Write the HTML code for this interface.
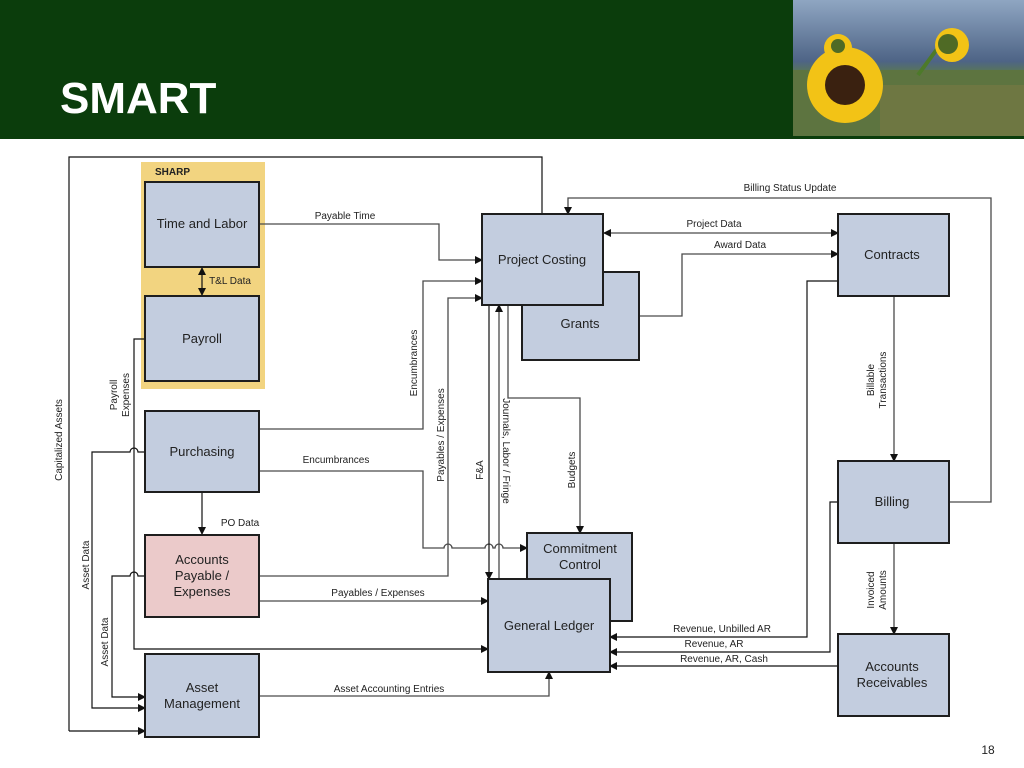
<!DOCTYPE html>
<html><head><meta charset="utf-8"><style>
html,body{margin:0;padding:0;background:#fff;}
svg{display:block;font-family:"Liberation Sans",Arial,sans-serif;}
.b{fill:#c3cddf;stroke:#1e1e1e;stroke-width:2;}
.l{fill:none;stroke:#4a4a4a;stroke-width:1.3;}
.k{fill:none;stroke:#111;stroke-width:1.2;}
.t{font-size:13px;fill:#222;text-anchor:middle;}
.c{font-size:10px;fill:#222;text-anchor:middle;}
</style></head><body>
<svg width="1024" height="768" viewBox="0 0 1024 768" xmlns="http://www.w3.org/2000/svg">
<defs>
<marker id="a" markerWidth="8" markerHeight="8" refX="7" refY="4" orient="auto" markerUnits="userSpaceOnUse"><path d="M0,0 L8,4 L0,8 z" fill="#111"/></marker>
<marker id="s" markerWidth="8" markerHeight="8" refX="1" refY="4" orient="auto" markerUnits="userSpaceOnUse"><path d="M8,0 L0,4 L8,8 z" fill="#111"/></marker>
<linearGradient id="sky" x1="0" y1="0" x2="0" y2="1"><stop offset="0" stop-color="#8fa6c2"/><stop offset="0.45" stop-color="#4e6486"/><stop offset="0.55" stop-color="#5b7a4c"/><stop offset="1" stop-color="#556b37"/></linearGradient>
</defs>
<!-- header -->
<rect x="0" y="0" width="1024" height="139" fill="#0b3d0c"/>
<text x="60" y="113" font-size="44" font-weight="bold" fill="#fff">SMART</text>
<rect x="793" y="0" width="231" height="136" fill="url(#sky)"/>
<rect x="793" y="70" width="231" height="66" fill="#5d7440"/>
<rect x="880" y="85" width="144" height="51" fill="#7a7a45" opacity="0.6"/>
<path d="M918,75 L940,45" stroke="#4d7a2a" stroke-width="4"/>
<g fill="#f2c316"><circle cx="838" cy="48" r="14"/><circle cx="952" cy="45" r="17"/><circle cx="845" cy="85" r="38"/></g>
<circle cx="845" cy="85" r="20" fill="#3a2110"/>
<circle cx="948" cy="44" r="10" fill="#4f6a25"/>
<circle cx="838" cy="46" r="7" fill="#4f6a25"/>
<!-- SHARP -->
<rect x="141" y="162" width="124" height="227" fill="#f2d480"/>
<text x="155" y="175" font-size="10" font-weight="bold" fill="#222">SHARP</text>
<!-- connectors -->
<polyline class="k" points="69,731 69,157 542,157 542,214"/>
<line class="k" x1="69" y1="731" x2="145" y2="731" marker-end="url(#a)"/>
<polyline class="l" points="259,224 439,224 439,260 482,260" marker-end="url(#a)"/>
<line class="k" x1="202" y1="268" x2="202" y2="295" marker-start="url(#s)" marker-end="url(#a)"/>
<polyline class="l" points="259,429 423,429 423,281 482,281" marker-end="url(#a)"/>
<polyline class="l" points="259,576 448,576 448,298 482,298" marker-end="url(#a)"/>
<path class="l" d="M259,471 L423,471 L423,548 L444,548 A4,4 0 0 1 452,548 L485,548 A4,4 0 0 1 493,548 L495,548 A4,4 0 0 1 503,548 L527,548" marker-end="url(#a)"/>
<line class="k" x1="489" y1="305" x2="489" y2="579" marker-end="url(#a)"/>
<line class="l" x1="499" y1="579" x2="499" y2="305" marker-end="url(#a)"/>
<polyline class="l" points="508,305 508,398 580,398 580,533" marker-end="url(#a)"/>
<line class="k" x1="202" y1="492" x2="202" y2="534" marker-end="url(#a)"/>
<line class="l" x1="259" y1="601" x2="488" y2="601" marker-end="url(#a)"/>
<path class="k" d="M145,339 L134,339 L134,649 L488,649" marker-end="url(#a)"/>
<path class="k" d="M145,452 L138,452 A4,4 0 0 0 130,452 L92,452 L92,708 L145,708" marker-end="url(#a)"/>
<path class="k" d="M145,576 L138,576 A4,4 0 0 0 130,576 L112,576 L112,697 L145,697" marker-end="url(#a)"/>
<polyline class="l" points="259,696 549,696 549,672" marker-end="url(#a)"/>
<polyline class="l" points="946,502 991,502 991,198 568,198 568,214" marker-end="url(#a)"/>
<line class="l" x1="604" y1="233" x2="838" y2="233" marker-start="url(#s)" marker-end="url(#a)"/>
<polyline class="l" points="639,316 682,316 682,254 838,254" marker-end="url(#a)"/>
<polyline class="k" points="838,281 807,281 807,637 610,637" marker-end="url(#a)"/>
<polyline class="k" points="838,502 830,502 830,652 610,652" marker-end="url(#a)"/>
<polyline class="k" points="838,666 610,666" marker-end="url(#a)"/>
<line class="l" x1="894" y1="296" x2="894" y2="461" marker-end="url(#a)"/>
<line class="l" x1="894" y1="543" x2="894" y2="634" marker-end="url(#a)"/>
<!-- boxes -->
<rect class="b" x="145" y="182" width="114" height="85"/>
<rect class="b" x="145" y="296" width="114" height="85"/>
<rect class="b" x="145" y="411" width="114" height="81"/>
<rect class="b" x="145" y="535" width="114" height="82" style="fill:#ebcaca"/>
<rect class="b" x="145" y="654" width="114" height="83"/>
<rect class="b" x="522" y="272" width="117" height="88"/>
<rect class="b" x="482" y="214" width="121" height="91"/>
<rect class="b" x="838" y="214" width="111" height="82"/>
<rect class="b" x="838" y="461" width="111" height="82"/>
<rect class="b" x="527" y="533" width="105" height="88"/>
<rect class="b" x="488" y="579" width="122" height="93"/>
<rect class="b" x="838" y="634" width="111" height="82"/>
<!-- box labels -->
<text class="t" x="202" y="228">Time and Labor</text>
<text class="t" x="202" y="343">Payroll</text>
<text class="t" x="202" y="456">Purchasing</text>
<text class="t" x="202" y="564">Accounts</text>
<text class="t" x="202" y="580">Payable /</text>
<text class="t" x="202" y="596">Expenses</text>
<text class="t" x="202" y="692">Asset</text>
<text class="t" x="202" y="708">Management</text>
<text class="t" x="542" y="264">Project Costing</text>
<text class="t" x="580" y="328">Grants</text>
<text class="t" x="892" y="259">Contracts</text>
<text class="t" x="892" y="506">Billing</text>
<text class="t" x="580" y="553">Commitment</text>
<text class="t" x="580" y="569">Control</text>
<text class="t" x="549" y="630">General Ledger</text>
<text class="t" x="892" y="671">Accounts</text>
<text class="t" x="892" y="687">Receivables</text>
<!-- connector labels -->
<text class="c" x="345" y="219">Payable Time</text>
<text class="c" x="230" y="284">T&amp;L Data</text>
<text class="c" x="336" y="463">Encumbrances</text>
<text class="c" x="240" y="526">PO Data</text>
<text class="c" x="378" y="596">Payables / Expenses</text>
<text class="c" x="389" y="692">Asset Accounting Entries</text>
<text class="c" x="790" y="191">Billing Status Update</text>
<text class="c" x="714" y="227">Project Data</text>
<text class="c" x="740" y="248">Award Data</text>
<text class="c" x="722" y="632">Revenue, Unbilled AR</text>
<text class="c" x="714" y="647">Revenue, AR</text>
<text class="c" x="724" y="662">Revenue, AR, Cash</text>
<text class="c" transform="translate(62,440) rotate(-90)">Capitalized Assets</text>
<text class="c" transform="translate(117,395) rotate(-90)">Payroll</text>
<text class="c" transform="translate(129,395) rotate(-90)">Expenses</text>
<text class="c" transform="translate(89,565) rotate(-90)">Asset Data</text>
<text class="c" transform="translate(108,642) rotate(-90)">Asset Data</text>
<text class="c" transform="translate(417,363) rotate(-90)">Encumbrances</text>
<text class="c" transform="translate(444,435) rotate(-90)">Payables / Expenses</text>
<text class="c" transform="translate(483,470) rotate(-90)">F&amp;A</text>
<text class="c" transform="translate(503,451) rotate(90)">Journals, Labor / Fringe</text>
<text class="c" transform="translate(575,470) rotate(-90)">Budgets</text>
<text class="c" transform="translate(874,380) rotate(-90)">Billable</text>
<text class="c" transform="translate(886,380) rotate(-90)">Transactions</text>
<text class="c" transform="translate(874,590) rotate(-90)">Invoiced</text>
<text class="c" transform="translate(886,590) rotate(-90)">Amounts</text>
<text x="988" y="754" font-size="12" fill="#222" text-anchor="middle">18</text>
</svg>
</body></html>
